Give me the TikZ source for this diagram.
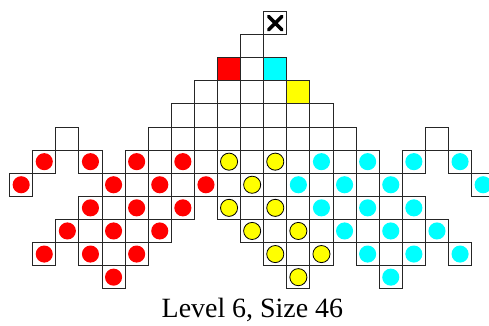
\documentclass[tikz,border=0pt]{standalone}
\usepackage{fontspec}
\setmainfont{Liberation Serif}
\definecolor{tilered}{RGB}{255,0,0}
\definecolor{tilecyan}{RGB}{0,255,255}
\definecolor{tileyellow}{RGB}{255,255,0}
\tikzset{
  cellbox/.style={draw=black!85, line width=0.9pt},
  marble/.style={line width=0.8pt},
}
\begin{document}
\begin{tikzpicture}[x=0.8cm,y=-0.8cm]
  \useasboundingbox (-0.416,-0.498) rectangle (20.753,13.58);

  % Board cells, row / first column / last column
  \foreach \r/\a/\b in {0/11/11, 1/10/10, 2/9/11, 3/8/12, 4/7/13,
      5/2/2, 5/6/14, 5/18/18,
      6/1/1, 6/3/3, 6/5/15, 6/17/17, 6/19/19,
      7/0/0, 7/4/16, 7/20/20,
      8/3/7, 8/9/17,
      9/2/6, 9/10/18,
      10/1/1, 10/3/5, 10/11/13, 10/15/17, 10/19/19,
      11/4/4, 11/12/12, 11/16/16}
    \foreach \c in {\a,...,\b}
      \draw[cellbox] (\c,\r) rectangle ++(1,1);

  % Target squares
  \draw[cellbox, fill=tilered] (9,2) rectangle ++(1,1);
  \draw[cellbox, fill=tilecyan] (11,2) rectangle ++(1,1);
  \draw[cellbox, fill=tileyellow] (12,3) rectangle ++(1,1);

  % Exit mark
  \draw[line width=3.5pt, line cap=round] (11.21,0.21) -- (11.79,0.79)
    (11.21,0.79) -- (11.79,0.21);

  % Red marbles
  \foreach \c/\r in {1/6, 3/6, 5/6, 7/6, 0/7, 4/7, 6/7, 8/7, 3/8, 5/8, 7/8,
      2/9, 4/9, 6/9, 1/10, 3/10, 5/10, 4/11}
    \fill[tilered] (\c+0.5,\r+0.5) circle (0.37);

  % Yellow marbles
  \foreach \c/\r in {9/6, 11/6, 10/7, 9/8, 11/8, 10/9, 12/9, 11/10, 13/10, 12/11}
    \draw[marble, fill=tileyellow] (\c+0.5,\r+0.5) circle (0.37);

  % Cyan marbles
  \foreach \c/\r in {13/6, 15/6, 17/6, 19/6, 12/7, 14/7, 16/7, 20/7,
      13/8, 15/8, 17/8, 14/9, 16/9, 18/9, 15/10, 17/10, 19/10, 16/11}
    \fill[tilecyan] (\c+0.5,\r+0.5) circle (0.37);

  % Caption
  \node[anchor=base, font=\fontsize{27.5}{32}\selectfont] (caption) at (10.51,13.25) {Level 6, Size 46};

\end{tikzpicture}
\end{document}
